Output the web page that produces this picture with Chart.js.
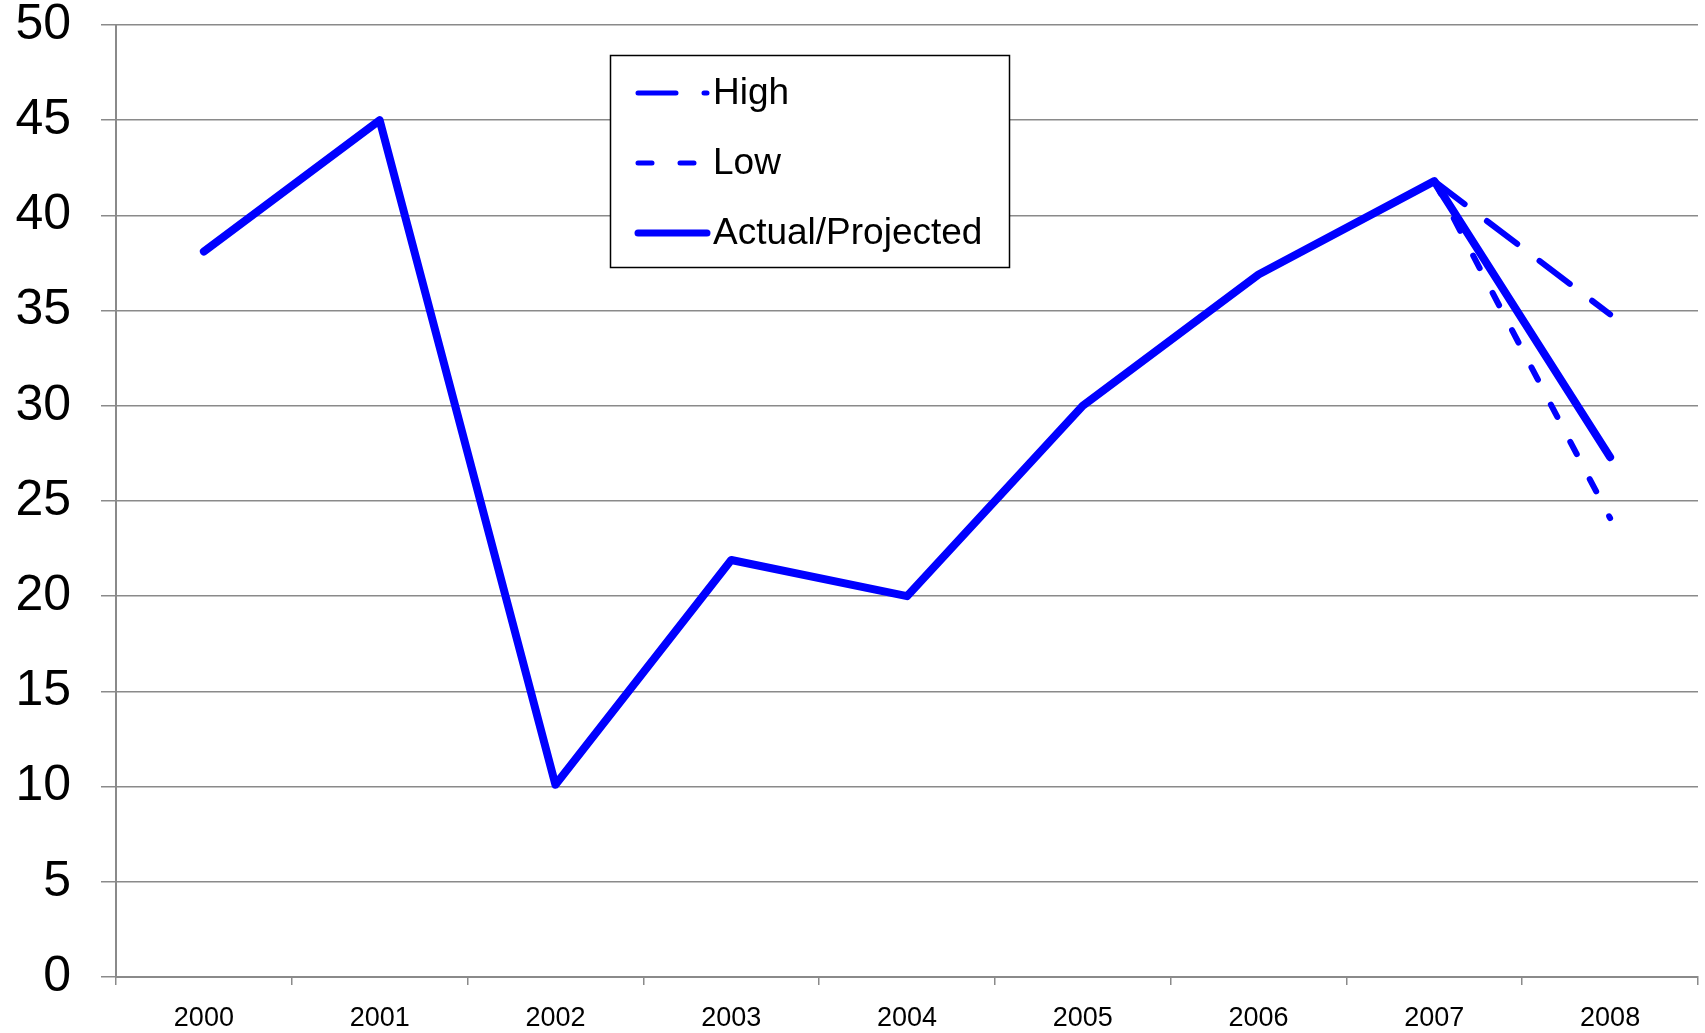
<!DOCTYPE html>
<html>
<head>
<meta charset="utf-8">
<script src="https://cdn.jsdelivr.net/npm/chart.js@4.4.0/dist/chart.umd.min.js"></script>
<style>
    html, body { margin: 0; padding: 0; background: #ffffff; }
    #wrap { width: 1705px; height: 1033px; }
</style>
</head>
<body>
<div id="wrap"><canvas id="trendChart" width="1705" height="1033"></canvas></div>
<script>
// Chart data
const years = ['2000', '2001', '2002', '2003', '2004', '2005', '2006', '2007', '2008'];
const actualValues = [38.1, 45, 10.1, 21.9, 20, 30, 36.9, 41.8, 27.3];
const highValues = [null, null, null, null, null, null, null, 41.8, 34.8];
const lowValues = [null, null, null, null, null, null, null, 41.8, 24.1];
const yTicks = [0, 5, 10, 15, 20, 25, 30, 35, 40, 45, 50];

const BLUE = '#0000ff';
const GRID = '#8a8a8a';
const FONT = "'Liberation Sans', Arial, sans-serif";

// Boxed legend drawn inside the plot, like the original
const boxLegend = {
    id: 'boxLegend',
    afterDraw(chart) {
        const ctx = chart.ctx;
        const left = 610, top = 55, width = 399, height = 212;
        const rows = [93, 163, 233];

        ctx.save();
        ctx.fillStyle = '#ffffff';
        ctx.fillRect(left, top, width, height);
        ctx.strokeStyle = '#000000';
        ctx.lineWidth = 1.5;
        ctx.strokeRect(left + 0.5, top + 0.5, width, height);

        chart.data.datasets.forEach((ds, i) => {
            const y = rows[i];
            ctx.beginPath();
            ctx.strokeStyle = ds.borderColor;
            ctx.lineWidth = ds.borderWidth - 1;
            ctx.lineCap = 'round';
            ctx.setLineDash(ds.borderDash || []);
            ctx.moveTo(638, y);
            ctx.lineTo(707, y);
            ctx.stroke();
            ctx.setLineDash([]);

            ctx.fillStyle = '#000000';
            ctx.font = '37px ' + FONT;
            ctx.textAlign = 'left';
            ctx.textBaseline = 'middle';
            ctx.fillText(ds.label, 713, y + 1);
        });
        ctx.restore();
    }
};

document.addEventListener('DOMContentLoaded', function() {
    const ctx = document.getElementById('trendChart');

    new Chart(ctx, {
        type: 'line',
        data: {
            labels: years,
            datasets: [
                {
                    label: 'High',
                    data: highValues,
                    borderColor: BLUE,
                    borderWidth: 6,
                    borderDash: [38, 28],
                    borderCapStyle: 'round',
                    pointRadius: 0,
                    tension: 0,
                    spanGaps: false
                },
                {
                    label: 'Low',
                    data: lowValues,
                    borderColor: BLUE,
                    borderWidth: 6,
                    borderDash: [14, 28],
                    borderCapStyle: 'round',
                    pointRadius: 0,
                    tension: 0,
                    spanGaps: false
                },
                {
                    label: 'Actual/Projected',
                    data: actualValues,
                    borderColor: BLUE,
                    borderWidth: 8,
                    borderCapStyle: 'round',
                    borderJoinStyle: 'round',
                    pointRadius: 0,
                    tension: 0
                }
            ]
        },
        options: {
            responsive: false,
            animation: false,
            devicePixelRatio: 1,
            layout: {
                padding: { top: 25, right: 7, left: 0, bottom: 0 }
            },
            scales: {
                x: {
                    type: 'category',
                    offset: true,
                    grid: {
                        offset: true,
                        drawOnChartArea: false,
                        drawTicks: true,
                        tickLength: 8,
                        color: GRID,
                        lineWidth: 1.5
                    },
                    border: { display: true, color: GRID, width: 2 },
                    ticks: {
                        color: '#000000',
                        padding: 20,
                        maxRotation: 0,
                        font: { family: FONT, size: 27, lineHeight: 1 }
                    },
                    afterFit: function(scale) {
                        scale.height = 56;
                        scale.paddingLeft = 0;
                        scale.paddingRight = 0;
                    }
                },
                y: {
                    min: 0,
                    max: 50,
                    afterBuildTicks: function(scale) {
                        scale.ticks = yTicks.map(v => ({ value: v }));
                    },
                    grid: {
                        drawTicks: true,
                        tickLength: 15,
                        color: GRID,
                        lineWidth: 1.5
                    },
                    border: { display: true, color: GRID, width: 2 },
                    ticks: {
                        color: '#000000',
                        padding: 30,
                        font: { family: FONT, size: 50, lineHeight: 1 }
                    },
                    afterFit: function(scale) {
                        scale.width = 116;
                        scale.paddingTop = 0;
                        scale.paddingBottom = 0;
                    }
                }
            },
            plugins: {
                legend: { display: false },
                tooltip: { enabled: false },
                title: { display: false }
            }
        },
        plugins: [boxLegend]
    });
});
</script>
</body>
</html>
